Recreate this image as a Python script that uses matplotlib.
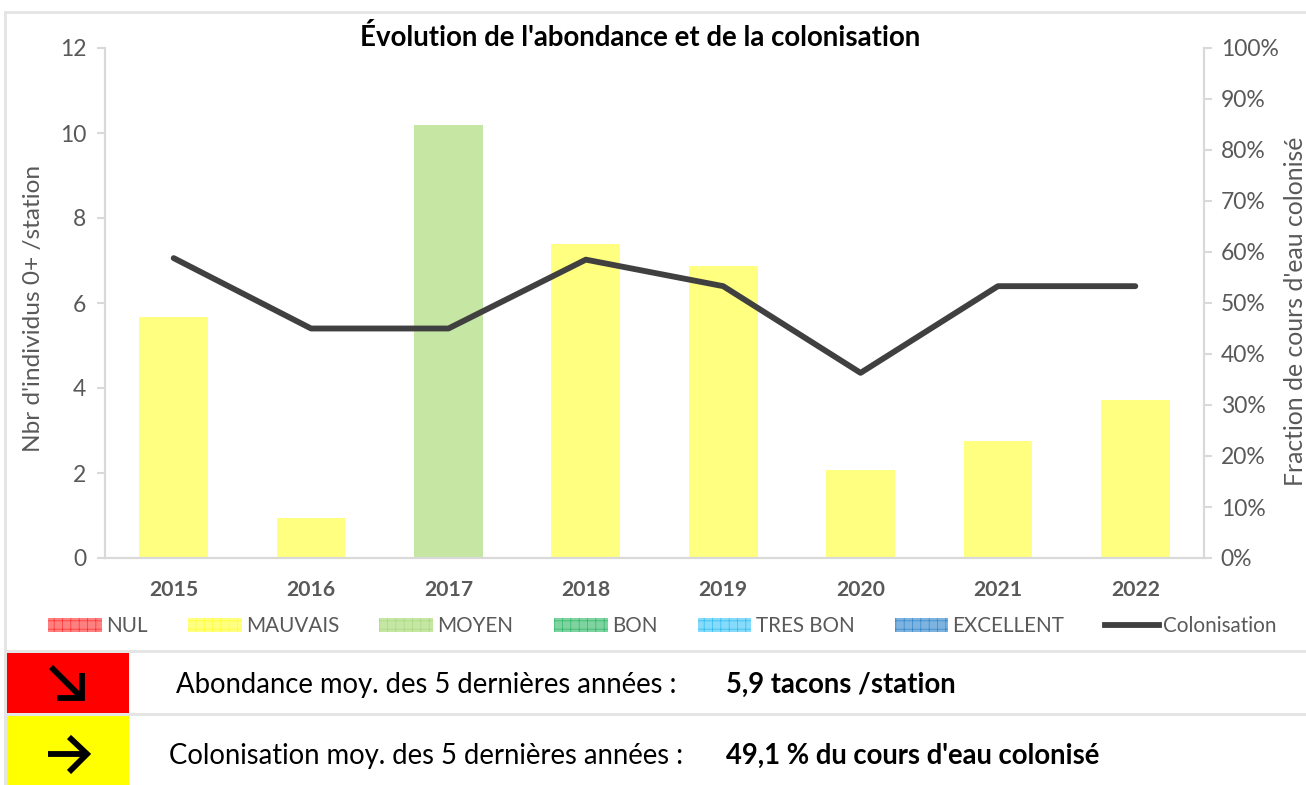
import matplotlib
matplotlib.use('Agg')
import matplotlib.pyplot as plt
from matplotlib.patches import Patch, Rectangle
from matplotlib.lines import Line2D

plt.rcParams['font.family'] = ['Lato', 'DejaVu Sans']
plt.rcParams['hatch.linewidth'] = 0.5

annees = ['2015', '2016', '2017', '2018', '2019', '2020', '2021', '2022']
abondance = [5.67, 0.95, 10.18, 7.40, 6.87, 2.07, 2.75, 3.72]
colonisation = [58.8, 45.0, 45.0, 58.5, 53.3, 36.3, 53.3, 53.3]
classes = ['MAUVAIS', 'MAUVAIS', 'MOYEN', 'MAUVAIS', 'MAUVAIS', 'MAUVAIS', 'MAUVAIS', 'MAUVAIS']

noms_classes = ['NUL', 'MAUVAIS', 'MOYEN', 'BON', 'TRES BON', 'EXCELLENT']
couleurs = {'NUL': '#FF8080', 'MAUVAIS': '#FFFF80', 'MOYEN': '#C6E7A4',
            'BON': '#7FD3A0', 'TRES BON': '#86DAFA', 'EXCELLENT': '#7FB3DF'}
hachures = {'NUL': '#FF3030', 'MAUVAIS': '#FFFF30', 'MOYEN': '#A8D880',
            'BON': '#30B868', 'TRES BON': '#30BCF0', 'EXCELLENT': '#3088CC'}

lignes_texte = [
    ("Abondance moy. des 5 dernières années :", "5,9 tacons /station"),
    ("Colonisation moy. des 5 dernières années :", "49,1 % du cours d'eau colonisé"),
]

W, H = 1306, 785
GRIS = '#595959'
fig = plt.figure(figsize=(W / 100, H / 100), dpi=100)

def px(x, y):
    return x / W, 1 - y / H

def rect(x0, y0, x1, y1, couleur):
    fig.add_artist(Rectangle(px(x0, y1), (x1 - x0) / W, (y1 - y0) / H, transform=fig.transFigure,
                             facecolor=couleur, edgecolor='none'))

# cadre et bandeaux du bas
rect(4, 11, W, 14, '#E5E5E5')
rect(4, 11, 7, H, '#E5E5E5')
rect(7, 650, W, 653, '#E5E5E5')
rect(7, 713, W, 716, '#E5E5E5')
rect(7, 653, 129, 713, '#FF0000')
rect(7, 716, 129, H, '#FFFF00')

ax = fig.add_axes([105 / W, 1 - 558 / H, (1204 - 105) / W, (558 - 48) / H])
x = range(len(annees))
ax.bar(x, abondance, width=0.5, color=[couleurs[c] for c in classes])
ax.set_xlim(-0.5, 7.5)
ax.set_ylim(0, 12)
ax.set_yticks(range(0, 13, 2))
ax.set_xticks(list(x))
ax.set_xticklabels(annees, fontweight='bold', fontsize=15.2, color=GRIS)
ax.tick_params(axis='x', length=0, pad=16)
ax.tick_params(axis='y', labelsize=16.5, labelcolor=GRIS, color='#D9D9D9', length=6, width=1.5, pad=7.5)
ax.set_ylabel("Nbr d'individus 0+ /station", fontsize=17.6, color=GRIS)
ax.yaxis.set_label_coords((44 - 105) / (1204 - 105), 0.49)

ax2 = ax.twinx()
ax2.plot(x, colonisation, color='#404040', linewidth=4.2, solid_capstyle='round')
ax2.set_ylim(0, 100)
ax2.set_yticks(range(0, 101, 10))
ax2.set_yticklabels([f'{v}%' for v in range(0, 101, 10)])
ax2.tick_params(axis='y', labelsize=16.5, labelcolor=GRIS, color='#D9D9D9', length=6, width=1.5, pad=6)
ax2.set_ylabel("Fraction de cours d'eau colonisé", fontsize=17.8, color=GRIS)
ax2.yaxis.set_label_coords((1284 - 105) / (1204 - 105), 0.484)

for a in (ax, ax2):
    a.spines['top'].set_visible(False)
    for s in ('left', 'right', 'bottom'):
        a.spines[s].set_color('#D9D9D9')
        a.spines[s].set_linewidth(1.5)

fig.text(640 / W, 1 - 38 / H, "Évolution de l'abondance et de la colonisation", ha='center', va='center',
         fontsize=19.9, fontweight='bold', color='black')

# legende
poignees = [Patch(facecolor=couleurs[n], edgecolor=hachures[n], hatch='++', linewidth=0, label=n)
            for n in noms_classes]
poignees.append(Line2D([0], [0], color='#404040', linewidth=4.2, label='Colonisation'))
fig.legend(handles=poignees, ncol=7, frameon=False, fontsize=14.9, labelcolor=GRIS,
           loc='center left', bbox_to_anchor=px(48, 626), borderpad=0, borderaxespad=0,
           handlelength=2.6, handleheight=0.7, handletextpad=0.2, columnspacing=1.95)

# fleches
def trait(xs, ys):
    fig.add_artist(Line2D([v / W for v in xs], [1 - v / H for v in ys], color='black', linewidth=4.2,
                          solid_capstyle='butt', solid_joinstyle='miter', transform=fig.transFigure))

trait([51, 82], [667, 698])
trait([57, 82, 82], [698, 698, 673])
trait([48, 87], [754, 754])
trait([69, 87, 69], [737, 754, 772])

# textes du bas
for (texte, gras), xg, y in zip(lignes_texte, [176, 169], [685, 756]):
    fig.text(xg / W, 1 - y / H, texte, ha='left', va='center', fontsize=19.8, color='black')
    fig.text(726 / W, 1 - y / H, gras, ha='left', va='center', fontsize=19.8, fontweight='bold', color='black')

fig.savefig('out.png', dpi=100)
